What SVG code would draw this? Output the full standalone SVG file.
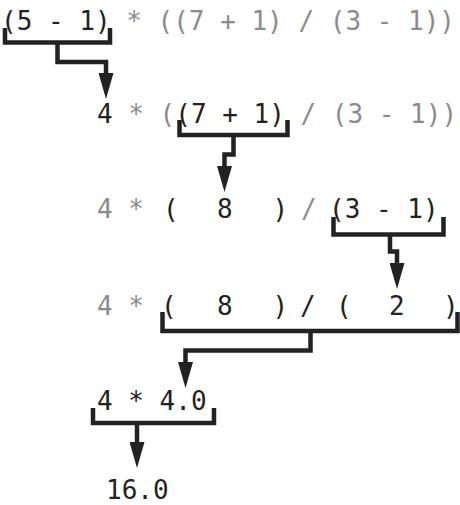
<svg xmlns="http://www.w3.org/2000/svg" width="460" height="505" viewBox="0 0 460 505">
<style>
  .t { font-family: "DejaVu Sans Mono", "Liberation Mono", monospace; font-size: 26px; }
  .k { fill: #222222; }
  .g { fill: #8c8c8c; }
  .br { fill: none; stroke: #222222; stroke-width: 4.5; stroke-linejoin: miter; stroke-linecap: butt; }
  .ar { fill: none; stroke: #222222; stroke-width: 4.5; stroke-linejoin: miter; marker-end: url(#ah); }
</style>
<defs>
  <marker id="ah" markerUnits="userSpaceOnUse" markerWidth="26" markerHeight="15" viewBox="0 0 26 15" refX="0" refY="7.5" orient="auto">
    <path d="M0,0 L26,7.5 L0,15 z" fill="#222222"/>
  </marker>
</defs>
<rect width="460" height="505" fill="#ffffff"/>
<g id="expr1"><text class="t" x="1" y="30" xml:space="preserve"><tspan class="k">(5 - 1)</tspan><tspan class="g"> * ((7 + 1) / (3 - 1))</tspan></text></g>
<g id="expr2"><text class="t" x="97" y="123" xml:space="preserve"><tspan class="k">4</tspan><tspan class="g"> * (</tspan><tspan class="k">(7 + 1)</tspan><tspan class="g"> / (3 - 1))</tspan></text></g>
<g id="expr3">
  <text class="t g" x="97" y="218" xml:space="preserve">4 *</text>
  <text class="t k" x="163" y="218">(</text>
  <text class="t k" x="217" y="218">8</text>
  <text class="t k" x="272.5" y="218">)</text>
  <text class="t g" x="301" y="218">/</text>
  <text class="t k" x="329" y="218" xml:space="preserve">(3 - 1)</text>
</g>
<g id="expr4">
  <text class="t g" x="97" y="315" xml:space="preserve">4 *</text>
  <text class="t k" x="161" y="315">(</text>
  <text class="t k" x="217" y="315">8</text>
  <text class="t k" x="272.5" y="315">)</text>
  <text class="t k" x="300" y="315">/</text>
  <text class="t k" x="336" y="315">(</text>
  <text class="t k" x="389" y="315">2</text>
  <text class="t k" x="443" y="315">)</text>
</g>
<g id="expr5"><text class="t k" x="97" y="410" xml:space="preserve">4 * 4.0</text></g>
<g id="result"><text class="t k" x="106" y="499">16.0</text></g>
<g id="connectors">
  <path class="br" d="M5,28 V42.5 H110 V28"/>
  <path class="ar" d="M57.5,42.5 V62 H106 V73"/>
  <path class="br" d="M179.5,120 V135 H287.5 V120"/>
  <path class="ar" d="M233.5,135 V154.5 H224.5 V166"/>
  <path class="br" d="M333.5,217 V234.5 H443.5 V217"/>
  <path class="ar" d="M390,234.5 V251.5 H397 V263"/>
  <path class="br" d="M162.5,312 V331 H457.5 V312"/>
  <path class="ar" d="M310.5,331 V350.5 H185.5 V362"/>
  <path class="br" d="M93,408 V423 H214 V408"/>
  <path class="ar" d="M137,423 V442"/>
</g>
</svg>
